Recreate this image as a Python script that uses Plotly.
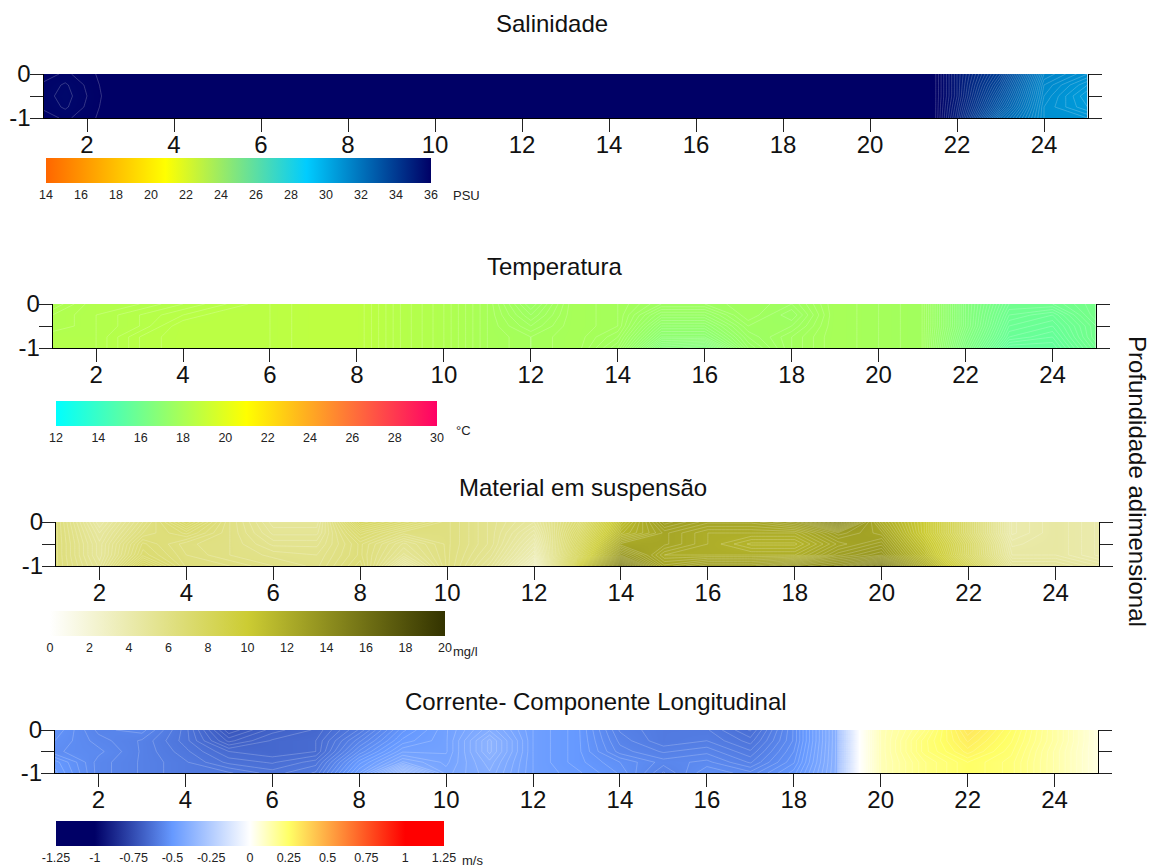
import numpy as np
import plotly.graph_objects as go

W, H = 1154, 867
FONT = "Liberation Sans"
CB_LABEL_PAD = 14.5

depth = [0, -0.25, -0.5, -0.75, -1]
stations = list(range(1, 26))
sal_stations = [1, 1.5] + list(range(2, 22)) + [21.5, 22, 23, 24, 25]
cur_stations = list(range(1, 20)) + [19.5] + list(range(20, 26))
x_ticks = list(range(2, 26, 2))

# each inner list: one station, surface to bottom
sal_by_station = [
    [35.95, 35.88, 35.85, 35.88, 35.95],
    [35.88, 35.78, 35.75, 35.78, 35.88],
    [35.95, 35.92, 35.9, 35.92, 35.95],
    [36.2, 36.2, 36.2, 36.2, 36.2], [36.2, 36.2, 36.2, 36.2, 36.2], [36.2, 36.2, 36.2, 36.2, 36.2],
    [36.2, 36.2, 36.2, 36.2, 36.2], [36.2, 36.2, 36.2, 36.2, 36.2], [36.2, 36.2, 36.2, 36.2, 36.2],
    [36.2, 36.2, 36.2, 36.2, 36.2], [36.2, 36.2, 36.2, 36.2, 36.2], [36.2, 36.2, 36.2, 36.2, 36.2],
    [36.2, 36.2, 36.2, 36.2, 36.2], [36.2, 36.2, 36.2, 36.2, 36.2], [36.2, 36.2, 36.2, 36.2, 36.2],
    [36.2, 36.2, 36.2, 36.2, 36.2], [36.2, 36.2, 36.2, 36.2, 36.2], [36.2, 36.2, 36.2, 36.2, 36.2],
    [36.2, 36.2, 36.2, 36.2, 36.2], [36.2, 36.2, 36.2, 36.2, 36.2], [36.2, 36.2, 36.2, 36.2, 36.2],
    [36.2, 36.2, 36.2, 36.2, 36.2],
    [36.02, 36.02, 36.02, 36.02, 36.02],
    [35.2, 35.2, 35.2, 35.1, 35.0],
    [33.8, 33.5, 33.2, 32.9, 32.4],
    [31.4, 31.2, 31.1, 31.0, 31.0],
    [31.0, 30.7, 30.5, 30.6, 30.9],
]

temp_by_station = [
    [18.1, 18.2, 18.2, 18.3, 18.3], [18.3, 18.3, 18.3, 18.3, 18.3], [18.3, 18.4, 18.4, 18.5, 18.5],
    [18.4, 18.5, 18.6, 18.6, 18.6], [18.5, 18.6, 18.6, 18.6, 18.6], [18.6, 18.6, 18.6, 18.6, 18.6],
    [18.7, 18.7, 18.7, 18.7, 18.7], [18.7, 18.7, 18.7, 18.7, 18.7], [18.4, 18.4, 18.4, 18.4, 18.4],
    [18.2, 18.2, 18.2, 18.2, 18.2], [17.9, 17.9, 17.9, 17.9, 17.9], [17.5, 17.6, 17.7, 17.8, 17.8],
    [17.9, 17.9, 17.9, 17.9, 17.9], [17.8, 17.8, 17.8, 17.7, 17.6], [17.6, 17.4, 17.2, 17.0, 16.7],
    [17.6, 17.4, 17.2, 17.0, 16.6], [17.7, 17.7, 17.6, 17.5, 17.4], [17.6, 17.5, 17.6, 17.7, 17.7],
    [17.9, 17.9, 17.9, 17.9, 17.9], [17.8, 17.8, 17.8, 17.8, 17.8], [17.7, 17.7, 17.7, 17.7, 17.7],
    [16.7, 16.7, 16.7, 16.6, 16.5], [16.0, 15.9, 15.8, 15.7, 15.5], [16.0, 15.8, 15.7, 15.6, 15.5],
    [16.2, 16.2, 16.1, 16.1, 16.0],
]

mat_by_station = [
    [6.5, 6.5, 6.5, 6.5, 6.5], [4.5, 4.8, 5.0, 5.0, 5.2], [6.0, 6.3, 6.8, 7.0, 7.8],
    [7.5, 6.8, 6.2, 6.3, 6.4], [6.0, 6.0, 6.0, 6.0, 6.3], [5.0, 5.2, 5.5, 5.8, 6.0],
    [5.0, 5.2, 5.5, 5.7, 5.8], [7.8, 7.0, 6.5, 6.5, 6.7], [7.0, 6.2, 5.5, 5.2, 4.4],
    [6.2, 6.2, 6.2, 6.2, 6.2], [5.5, 5.5, 5.5, 5.3, 5.0], [4.8, 4.4, 4.0, 3.6, 3.0],
    [7.0, 7.5, 8.0, 8.5, 10.0], [11.0, 11.5, 12.5, 13.5, 15.0], [13.0, 12.5, 12.5, 12.0, 12.5],
    [12.5, 12.0, 12.0, 12.0, 13.0], [12.5, 12.0, 11.5, 12.0, 13.0], [13.0, 12.0, 11.5, 12.0, 13.5],
    [14.5, 13.0, 12.5, 13.0, 14.0], [12.0, 12.5, 13.0, 13.5, 15.0], [10.0, 10.0, 10.5, 11.0, 12.0],
    [7.0, 7.0, 7.5, 7.5, 8.5], [4.0, 4.0, 4.3, 4.5, 5.0], [4.5, 4.5, 4.5, 4.5, 5.0],
    [4.0, 4.0, 4.0, 4.0, 4.5],
]

cur_by_station = [
    [-.52, -.53, -.54, -.50, -.49], [-.57, -.56, -.55, -.56, -.56], [-.56, -.58, -.58, -.58, -.58],
    [-.62, -.62, -.61, -.60, -.60], [-.72, -.69, -.65, -.63, -.60], [-.68, -.66, -.66, -.64, -.62],
    [-.66, -.65, -.65, -.62, -.60], [-.60, -.57, -.54, -.50, -.47], [-.51, -.49, -.46, -.42, -.33],
    [-.46, -.46, -.46, -.45, -.44], [-.40, -.37, -.37, -.39, -.40], [-.47, -.47, -.47, -.47, -.47],
    [-.50, -.50, -.50, -.50, -.49], [-.58, -.57, -.56, -.53, -.52], [-.60, -.60, -.58, -.56, -.58],
    [-.60, -.59, -.57, -.55, -.53], [-.64, -.62, -.60, -.58, -.55], [-.54, -.54, -.53, -.52, -.50],
    [-.38, -.38, -.38, -.38, -.38], [0, 0, 0, 0, 0], [.12, .12, .12, .12, .12], [.20, .22, .22, .20, .20],
    [.32, .30, .28, .25, .25], [.25, .24, .23, .22, .22], [.15, .15, .14, .14, .14],
    [.05, .05, .05, .05, .05],
]

sal_ticks = list(range(14, 37, 2))
temp_ticks = list(range(12, 31, 2))
mat_ticks = list(range(0, 21, 2))
cur_ticks = [-1.25, -1, -0.75, -0.5, -0.25, 0, 0.25, 0.5, 0.75, 1, 1.25]

sal_scale = [[0, "#ff6600"], [0.31, "#ffff00"], [0.677, "#00ccff"], [1, "#000066"]]
temp_scale = [[0, "#00ffff"], [0.5, "#ffff00"], [1, "#ff0066"]]
mat_scale = [[0, "#ffffff"], [0.5, "#cccc33"], [1, "#333300"]]
cur_scale = [[0, "#000066"], [0.1, "#000066"], [0.3, "#6699ff"], [0.5, "#ffffff"],
             [0.6, "#ffff66"], [0.9, "#ff0000"], [1, "#ff0000"]]

panels = [
    dict(title="Salinidade", tx=552, ty=23, x0=43.5, x1=1087.5, y0=74, y1=118, x=sal_stations, data=sal_by_station,
         zmin=14, zmax=36, scale=sal_scale, ticks=sal_ticks, step=0.1,
         cb=(46, 431, 157, 182), unit="PSU", ux=466, uy=195),
    dict(title="Temperatura", tx=554, ty=266, x0=52.6, x1=1096, y0=304, y1=348, x=stations, data=temp_by_station,
         zmin=12, zmax=30, scale=temp_scale, ticks=temp_ticks, step=0.05,
         cb=(56, 437, 400, 425), unit="°C", ux=463, uy=430),
    dict(title="Material em suspensão", tx=583, ty=487, x0=56, x1=1099, y0=522, y1=566, x=stations, data=mat_by_station,
         zmin=0, zmax=20, scale=mat_scale, ticks=mat_ticks, step=0.15,
         cb=(50, 445, 610, 635), unit="mg/l", ux=465, uy=651),
    dict(title="Corrente- Componente Longitudinal", tx=596, ty=701, x0=55, x1=1098, y0=730, y1=773, x=cur_stations,
         data=cur_by_station, zmin=-1.25, zmax=1.25, scale=cur_scale, ticks=cur_ticks, step=0.012,
         cb=(56, 444, 820, 845), unit="m/s", ux=472, uy=860),
]

fig = go.Figure()
annotations = []
for i, p in enumerate(panels):
    s = "" if i == 0 else str(i + 1)
    z = np.array(p["data"]).T.tolist()
    cx0, cx1, cy0, cy1 = p["cb"]
    fig.add_trace(go.Heatmap(
        x=p["x"], y=depth, z=z, zmin=p["zmin"], zmax=p["zmax"], zsmooth="best",
        colorscale=p["scale"], xaxis="x" + s, yaxis="y" + s, hoverinfo="skip",
        colorbar=dict(
            orientation="h", x=cx0 / W, xanchor="left", y=1 - (cy1 + CB_LABEL_PAD) / H, yanchor="bottom",
            lenmode="pixels", len=cx1 - cx0, thicknessmode="pixels", thickness=cy1 - cy0,
            xpad=0, ypad=0, outlinewidth=0, borderwidth=0,
            tickmode="array", tickvals=p["ticks"], ticktext=[str(t) for t in p["ticks"]],
            ticks="", ticklen=0, tickfont=dict(family=FONT, size=12.5, color="#222222"),
        ),
    ))
    fig.add_trace(go.Contour(
        x=p["x"], y=depth, z=z, xaxis="x" + s, yaxis="y" + s, showscale=False, hoverinfo="skip",
        contours=dict(coloring="none", start=p["zmin"], end=p["zmax"], size=p["step"]),
        line=dict(color="rgba(255,255,255,0.3)", width=0.7, smoothing=0),
    ))
    fig.layout["xaxis" + s] = dict(
        domain=[p["x0"] / W, p["x1"] / W], range=[1, 25], anchor="y" + s,
        tickmode="array", tickvals=x_ticks, ticks="outside", ticklen=13, tickwidth=1, tickcolor="#222222",
        showline=True, linecolor="black", linewidth=1, showgrid=False, zeroline=False,
        ticklabelstandoff=-8,
        tickfont=dict(family=FONT, size=24, color="#111111"),
    )
    fig.layout["yaxis" + s] = dict(
        domain=[1 - p["y1"] / H, 1 - p["y0"] / H], range=[-1, 0], anchor="x" + s,
        tickmode="array", tickvals=[0, -0.5, -1], ticktext=["0", "", "-1"],
        ticks="outside", ticklen=13, tickwidth=1, tickcolor="#222222", mirror="ticks",
        showline=True, linecolor="black", linewidth=1, showgrid=False, zeroline=False,
        ticklabelstandoff=-6,
        tickfont=dict(family=FONT, size=24, color="#111111"),
    )
    annotations.append(dict(text=p["title"], x=p["tx"] / W, y=1 - p["ty"] / H, xref="paper", yref="paper",
                            xanchor="center", yanchor="middle", showarrow=False,
                            font=dict(family=FONT, size=24, color="#111111")))
    annotations.append(dict(text=p["unit"], x=p["ux"] / W, y=1 - p["uy"] / H, xref="paper", yref="paper",
                            xanchor="center", yanchor="middle", showarrow=False,
                            font=dict(family=FONT, size=13, color="#222222")))

annotations.append(dict(text="Profundidade adimensional", x=1138 / W, y=1 - 481 / H, xref="paper", yref="paper",
                        xanchor="center", yanchor="middle", textangle=90, showarrow=False,
                        font=dict(family=FONT, size=24, color="#111111")))

fig.update_layout(width=W, height=H, margin=dict(l=0, r=0, t=0, b=0, autoexpand=False),
                  paper_bgcolor="white", plot_bgcolor="white", showlegend=False, annotations=annotations)
fig.write_html("out.html", config={"displayModeBar": False}, post_script="document.body.style.margin='0';")
